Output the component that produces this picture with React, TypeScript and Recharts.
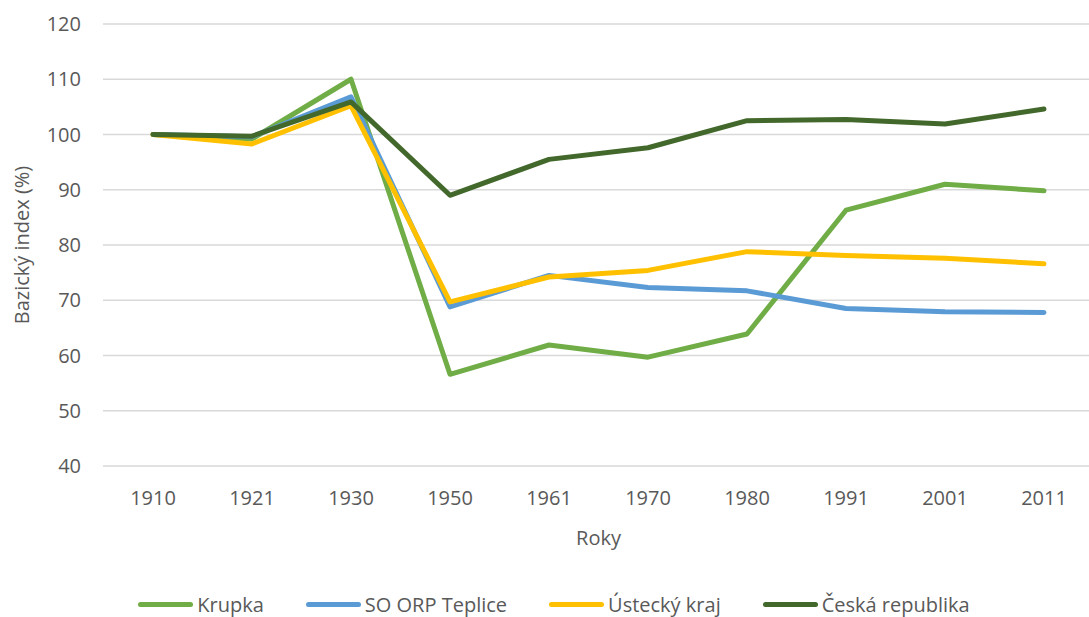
import React from 'react';
import { LineChart, Line, XAxis, YAxis, CartesianGrid, Legend } from 'recharts';

const years = ['1910', '1921', '1930', '1950', '1961', '1970', '1980', '1991', '2001', '2011'];
const krupka = [100, 99.2, 110, 56.6, 61.9, 59.7, 63.9, 86.3, 91.0, 89.8];
const teplice = [100, 99.6, 106.8, 68.8, 74.5, 72.3, 71.7, 68.5, 67.9, 67.8];
const ustecky = [100, 98.3, 105.2, 69.7, 74.2, 75.4, 78.8, 78.1, 77.6, 76.6];
const ceska = [100, 99.7, 105.9, 89.0, 95.5, 97.6, 102.5, 102.7, 101.9, 104.6];
const yTicks = [40, 50, 60, 70, 80, 90, 100, 110, 120];

const seriesNames = ['Krupka', 'SO ORP Teplice', 'Ústecký kraj', 'Česká republika'];
const seriesKeys = ['krupka', 'teplice', 'ustecky', 'ceska'];
const seriesColors = ['#70AD47', '#5B9BD5', '#FFC000', '#43682B'];

const data = years.map((y, i) => ({
  year: y,
  krupka: krupka[i],
  teplice: teplice[i],
  ustecky: ustecky[i],
  ceska: ceska[i],
}));

const FONT = '"Open Sans", sans-serif';
const TEXT = '#595959';

const YLabel = (props: any) => {
  const vb = props.viewBox || {};
  const x = (vb.x || 0) + 21;
  const y = (vb.y || 0) + (vb.height || 0) / 2;
  return (
    <text
      x={x}
      y={y}
      transform={`rotate(-90, ${x}, ${y})`}
      textAnchor="middle"
      dominantBaseline="central"
      fill={TEXT}
      fontSize={20}
      fontFamily={FONT}
    >
      Bazický index (%)
    </text>
  );
};

const renderLegend = () => (
  <div
    style={{
      display: 'flex',
      justifyContent: 'center',
      alignItems: 'center',
      height: 26,
      fontFamily: FONT,
      fontSize: 20,
      color: TEXT,
      paddingLeft: 14,
    }}
  >
    {seriesNames.map((n, i) => (
      <div
        key={n}
        style={{
          display: 'flex',
          alignItems: 'center',
          marginRight: i < seriesNames.length - 1 ? 42 : 0,
        }}
      >
        <span
          style={{
            display: 'inline-block',
            width: 55,
            height: 5,
            borderRadius: 3,
            background: seriesColors[i],
            marginRight: 4,
          }}
        />
        <span style={{ whiteSpace: 'nowrap' }}>{n}</span>
      </div>
    ))}
  </div>
);

export default function App() {
  return (
    <div style={{ position: 'relative', width: 1089, height: 617, overflow: 'hidden', background: '#fff' }}>
      <style>{`body{margin:0;}`}</style>
      <LineChart
        width={1094}
        height={617}
        data={data}
        margin={{ top: 24, right: 0, left: 0, bottom: 0 }}
      >
        <CartesianGrid vertical={false} stroke="#D9D9D9" strokeWidth={1.5} />
        <XAxis
          dataKey="year"
          axisLine={false}
          tickLine={false}
          tickSize={0}
          tickMargin={25}
          height={125}
          interval={0}
          padding={{ left: 50, right: 50 }}
          tick={{ fill: TEXT, fontSize: 20, fontFamily: FONT }}
          label={{ value: 'Roky', position: 'insideBottom', offset: 46, fill: TEXT, fontSize: 20, fontFamily: FONT }}
        />
        <YAxis
          domain={[40, 120]}
          ticks={yTicks}
          axisLine={false}
          tickLine={false}
          tickSize={0}
          tickMargin={22}
          width={103}
          interval={0}
          tick={{ fill: TEXT, fontSize: 20, fontFamily: FONT }}
          label={<YLabel />}
        />
        <Legend verticalAlign="bottom" content={renderLegend} />
        {seriesKeys.map((k, i) => (
          <Line
            key={k}
            type="linear"
            dataKey={k}
            name={seriesNames[i]}
            stroke={seriesColors[i]}
            strokeWidth={5}
            strokeLinecap="round"
            strokeLinejoin="round"
            dot={false}
            activeDot={false}
            isAnimationActive={false}
          />
        ))}
      </LineChart>
    </div>
  );
}
